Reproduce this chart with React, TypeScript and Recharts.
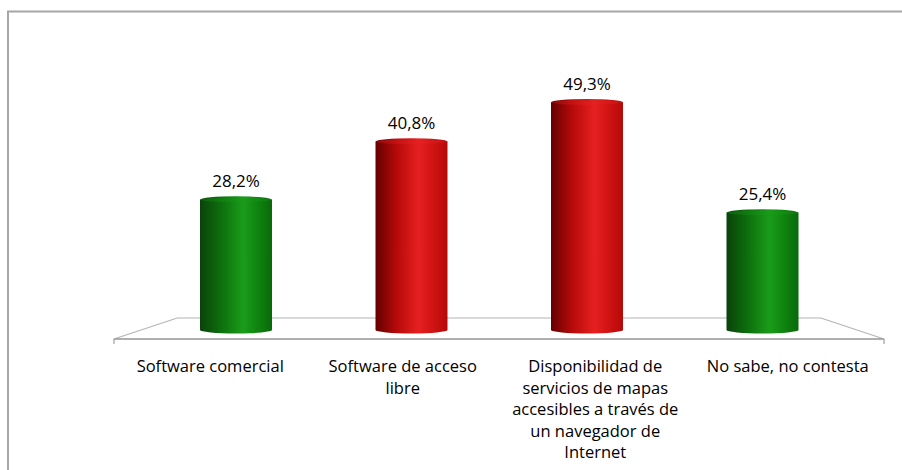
import { BarChart, Bar, XAxis, YAxis, LabelList, usePlotArea } from "recharts";

const CATEGORIES = [
  "Software comercial",
  "Software de acceso libre",
  "Disponibilidad de servicios de mapas accesibles a través de un navegador de Internet",
  "No sabe, no contesta",
];
const VALUES = [28.2, 40.8, 49.3, 25.4];
const BAR_COLORS = ["green", "red", "red", "green"];

const FONT = "'Open Sans', 'Noto Sans', sans-serif";
const PERSPECTIVE_FRONT = 1.097;
const PERSPECTIVE_BACK = 0.917;

const data = CATEGORIES.map((name, i) => ({ name, value: VALUES[i], color: BAR_COLORS[i] }));

function wrap(text: string, max: number): string[] {
  const lines: string[] = [];
  let cur = "";
  for (const w of text.split(" ")) {
    if (cur && (cur + " " + w).length > max) {
      lines.push(cur);
      cur = w;
    } else {
      cur = cur ? cur + " " + w : w;
    }
  }
  if (cur) lines.push(cur);
  return lines;
}

// chart frame (top + left border only, like the exported picture)
function Frame() {
  return (
    <g>
      <line x1={7} y1={11.5} x2={902} y2={11.5} stroke="#a6a6a6" strokeWidth={2} />
      <line x1={8} y1={11} x2={8} y2={470} stroke="#a6a6a6" strokeWidth={2} />
    </g>
  );
}

function Floor() {
  const area = usePlotArea();
  if (!area) return null;
  const cx = area.x + area.width / 2;
  const base = area.y + area.height;
  const bk = (area.width * PERSPECTIVE_BACK) / 2;
  const fr = (area.width * PERSPECTIVE_FRONT) / 2;
  const yb = base - 12;
  const yf = base + 9;
  return (
    <g>
      <polygon
        points={`${cx - bk},${yb} ${cx + bk},${yb} ${cx + fr},${yf} ${cx - fr},${yf}`}
        fill="#ffffff"
        stroke="#b4b4b4"
        strokeWidth={1.2}
      />
      <line x1={cx - fr} y1={yf} x2={cx + fr} y2={yf} stroke="#a0a0a0" strokeWidth={1.5} />
      <line x1={cx - fr} y1={yf} x2={cx - fr} y2={yf + 5} stroke="#a0a0a0" strokeWidth={1.2} />
      <line x1={cx + fr} y1={yf} x2={cx + fr} y2={yf + 5} stroke="#a0a0a0" strokeWidth={1.2} />
    </g>
  );
}

function PerspTick(props: any) {
  const area = usePlotArea();
  const { x, payload } = props;
  const cx = area ? area.x + area.width / 2 : x;
  const base = area ? area.y + area.height : 330;
  const tx = cx + (x - cx) * PERSPECTIVE_FRONT;
  const lines = wrap(String(payload.value), 22);
  return (
    <text
      x={tx}
      y={base + 35}
      textAnchor="middle"
      dominantBaseline="central"
      fontFamily={FONT}
      fontSize={16.5}
      fill="#000"
    >
      {lines.map((l, i) => (
        <tspan key={i} x={tx} dy={i === 0 ? 0 : 21.5}>
          {l}
        </tspan>
      ))}
    </text>
  );
}

function Cylinder(props: any) {
  const { x, y, width, height, payload } = props;
  if (!height || height <= 0) return null;
  const id = payload.color === "green" ? "gradGreen" : "gradRed";
  const top = payload.color === "green" ? "#1c9a1c" : "#e52424";
  const rx = width / 2;
  const ry = 3.5;
  const bottom = y + height;
  return (
    <g>
      <path
        d={`M${x},${y} L${x},${bottom} A${rx},${ry} 0 0 0 ${x + width},${bottom} L${x + width},${y} Z`}
        fill={`url(#${id})`}
      />
      <ellipse cx={x + rx} cy={y} rx={rx} ry={ry} fill={`url(#${id})`} />
      <ellipse cx={x + rx} cy={y} rx={rx - 1} ry={ry - 1} fill={top} opacity={0.3} />
    </g>
  );
}

function ValueLabel(props: any) {
  const { x, y, width, value } = props;
  return (
    <text
      x={x + width / 2}
      y={y - 19}
      textAnchor="middle"
      dominantBaseline="central"
      fontFamily={FONT}
      fontSize={17}
      fill="#000"
    >
      {String(value).replace(".", ",")}%
    </text>
  );
}

export default function App() {
  return (
    <div
      style={{
        position: "fixed",
        left: 0,
        top: 0,
        width: 902,
        height: 470,
        overflow: "hidden",
        background: "#fff",
      }}
    >
      <BarChart
        width={902}
        height={470}
        data={data}
        margin={{ top: 53, right: 52, left: 148, bottom: 0 }}
        barCategoryGap={0}
      >
        <defs>
          <linearGradient id="gradGreen" x1="0" y1="0" x2="1" y2="0">
            <stop offset="0%" stopColor="#0a430a" />
            <stop offset="30%" stopColor="#0d700d" />
            <stop offset="60%" stopColor="#1a9c1a" />
            <stop offset="80%" stopColor="#0f840f" />
            <stop offset="100%" stopColor="#0a690a" />
          </linearGradient>
          <linearGradient id="gradRed" x1="0" y1="0" x2="1" y2="0">
            <stop offset="0%" stopColor="#650000" />
            <stop offset="30%" stopColor="#b80a0a" />
            <stop offset="60%" stopColor="#e62020" />
            <stop offset="80%" stopColor="#d01313" />
            <stop offset="100%" stopColor="#b50909" />
          </linearGradient>
        </defs>
        <Frame />
        <Floor />
        <XAxis
          dataKey="name"
          height={140}
          axisLine={false}
          tickLine={false}
          interval={0}
          tick={<PerspTick />}
        />
        <YAxis hide domain={[0, 60]} />
        <Bar dataKey="value" barSize={72} shape={<Cylinder />} isAnimationActive={false}>
          <LabelList dataKey="value" content={<ValueLabel />} />
        </Bar>
      </BarChart>
    </div>
  );
}
